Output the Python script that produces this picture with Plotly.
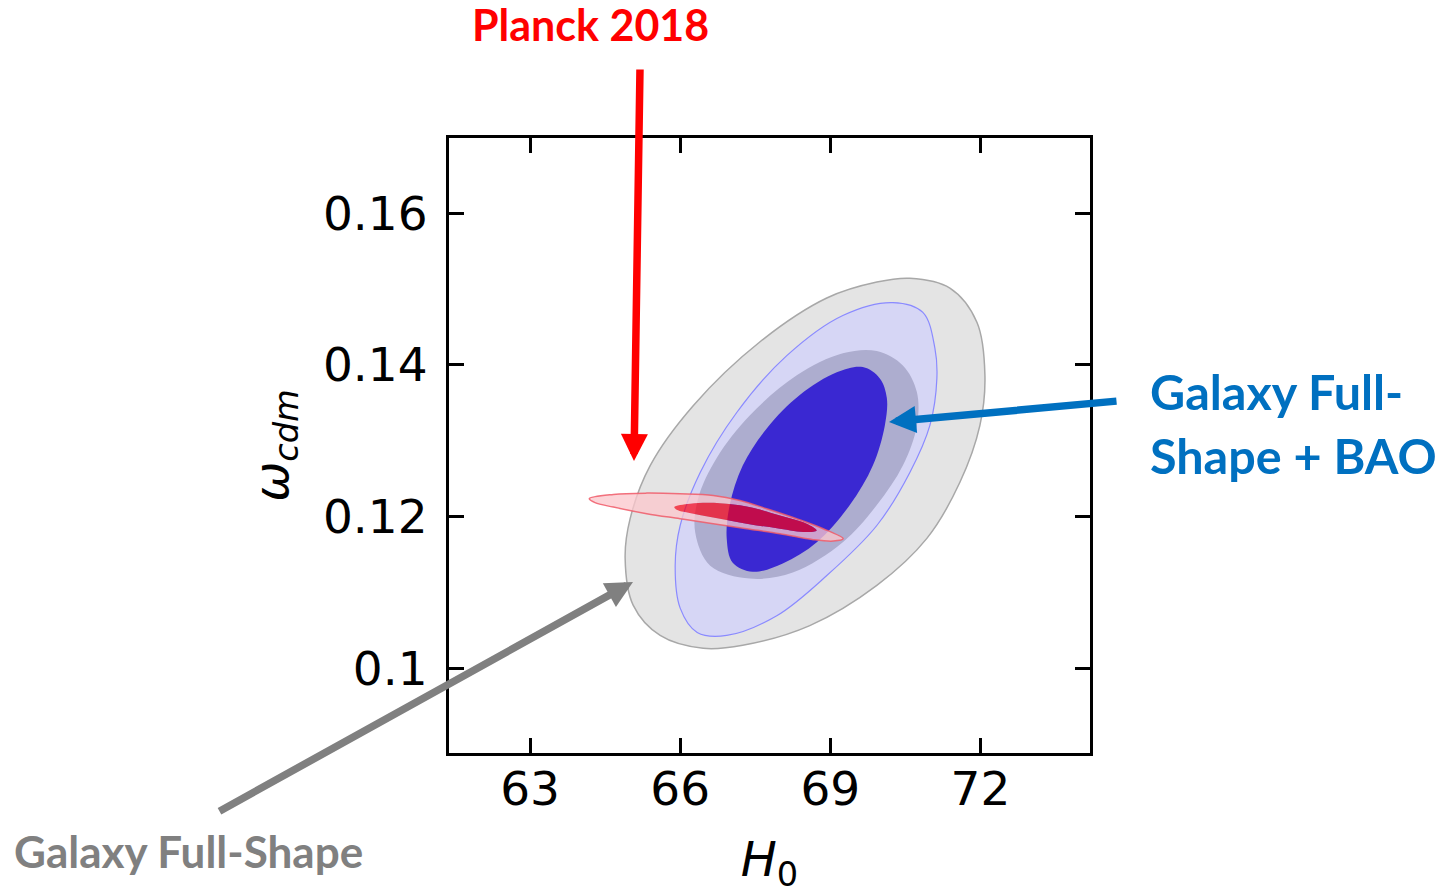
import plotly.graph_objects as go

# ---------------- axes ----------------
H0_RANGE = [61.38, 74.19]
W_RANGE = [0.0888, 0.1699]
H0_TICKS = [63, 66, 69, 72]
H0_TICK_TEXT = ["63", "66", "69", "72"]
W_TICKS = [0.10, 0.12, 0.14, 0.16]
W_TICK_TEXT = ["0.1", "0.12", "0.14", "0.16"]

# ---------------- contours (H0, omega_cdm) ----------------
# Galaxy Full-Shape, 2 sigma (outer grey)
gfs2_h0 = [67.59, 68.93, 69.93, 70.59, 71.39, 71.93, 72.09, 71.99, 71.59, 70.93, 69.93,
           68.59, 67.25, 66.46, 65.60, 65.06, 64.90, 65.00, 65.40, 66.26, 67.59]
gfs2_w = [0.1430, 0.1488, 0.1509, 0.1514, 0.1501, 0.1456, 0.1386, 0.1320, 0.1245, 0.1171, 0.1109,
          0.1056, 0.1030, 0.1026, 0.1043, 0.1083, 0.1145, 0.1197, 0.1267, 0.1346, 0.1430]

# Galaxy Full-Shape + BAO, 2 sigma (lavender)
bao2_h0 = [68.13, 69.25, 70.25, 70.85, 71.09, 71.13, 70.99, 70.59, 69.93, 68.93, 67.93,
           66.93, 66.34, 66.00, 65.90, 66.00, 66.40, 67.13, 68.13]
bao2_w = [0.1412, 0.1465, 0.1482, 0.1469, 0.1422, 0.1382, 0.1320, 0.1258, 0.1188, 0.1122, 0.1069,
          0.1043, 0.1047, 0.1079, 0.1135, 0.1188, 0.1258, 0.1337, 0.1412]

# Galaxy Full-Shape, 1 sigma (grey-blue)
gfs1_h0 = [68.33, 69.25, 69.93, 70.45, 70.73, 70.73, 70.45, 69.93, 69.25, 68.25, 67.39,
           66.60, 66.30, 66.36, 66.73, 67.39, 68.33]
gfs1_w = [0.1386, 0.1415, 0.1418, 0.1399, 0.1364, 0.1320, 0.1267, 0.1215, 0.1166, 0.1126, 0.1118,
          0.1135, 0.1179, 0.1224, 0.1277, 0.1333, 0.1386]

# Galaxy Full-Shape + BAO, 1 sigma (dark blue)
bao1_h0 = [68.39, 69.13, 69.65, 69.99, 70.13, 70.09, 69.85, 69.39, 68.73, 68.05, 67.45,
           67.05, 66.93, 66.99, 67.25, 67.73, 68.39]
bao1_w = [0.1360, 0.1390, 0.1397, 0.1382, 0.1356, 0.1320, 0.1267, 0.1215, 0.1166, 0.1138, 0.1127,
          0.1139, 0.1171, 0.1215, 0.1267, 0.1316, 0.1360]

# Planck 2018, 2 sigma
pl2_h0 = [65.996, 66.661, 67.194, 67.727, 68.327, 68.858, 69.257, 69.058, 68.658, 67.993,
          67.328, 66.661, 65.996, 65.331, 64.664, 64.298, 64.184, 64.664, 65.331, 65.996]
pl2_w = [0.12299, 0.12277, 0.12211, 0.12102, 0.11970, 0.11838, 0.11706, 0.11674, 0.11693, 0.11772,
         0.11838, 0.11904, 0.11970, 0.12036, 0.12123, 0.12181, 0.12234, 0.12290, 0.12307, 0.12299]

# Planck 2018, 1 sigma
pl1_h0 = [66.795, 67.328, 67.993, 68.526, 68.726, 68.526, 67.993, 67.328, 66.795, 66.261,
          65.930, 65.882, 66.196, 66.795]
pl1_w = [0.12175, 0.12132, 0.12013, 0.11904, 0.11815, 0.11793, 0.11838, 0.11904, 0.11970, 0.12036,
         0.12088, 0.12123, 0.12168, 0.12175]

# ---------------- labels ----------------
LABEL_PLANCK = "Planck 2018"
LABEL_BAO_1 = "Galaxy Full-"
LABEL_BAO_2 = "Shape + BAO"
LABEL_GFS = "Galaxy Full-Shape"

fig = go.Figure()


def region(x, y, fill, line_color=None, line_width=0):
    fig.add_trace(go.Scatter(
        x=x, y=y, mode="lines", fill="toself", fillcolor=fill,
        line=dict(color=line_color or fill, width=line_width, shape="spline", smoothing=1.0),
        hoverinfo="skip", showlegend=False))


region(gfs2_h0, gfs2_w, "#e4e4e4", "#a8a8a8", 1.5)
region(bao2_h0, bao2_w, "#d6d6f5", "#8a8aff", 1.2)
region(gfs1_h0, gfs1_w, "#adadcf")
region(bao1_h0, bao1_w, "#3a28d2")

# Planck 2 sigma band (outer ring with the 1 sigma area cut out)
band_x = pl2_h0 + [None] + pl1_h0[::-1]
band_y = pl2_w + [None] + pl1_w[::-1]
region(band_x, band_y, "rgba(251,199,204,0.77)")
fig.add_trace(go.Scatter(
    x=pl2_h0, y=pl2_w, mode="lines",
    line=dict(color="rgba(240,90,105,0.85)", width=1.5, shape="spline", smoothing=1.0),
    hoverinfo="skip", showlegend=False))
region(pl1_h0, pl1_w, "rgba(250,0,20,0.70)")

TICK_FONT = dict(family="DejaVu Sans", size=47, color="black")
TITLE_FONT = dict(family="DejaVu Sans", size=48, color="black")

fig.update_xaxes(
    range=H0_RANGE, tickvals=H0_TICKS, ticktext=H0_TICK_TEXT,
    ticks="inside", ticklen=15, tickwidth=2.5, tickcolor="black",
    showline=True, linewidth=3, linecolor="black", mirror="ticks",
    showgrid=False, zeroline=False, tickfont=TICK_FONT, ticklabelstandoff=-7,
    automargin=False,
    title=dict(text="<i>H</i><sub>0</sub>", font=TITLE_FONT, standoff=35))
fig.update_yaxes(
    range=W_RANGE, tickvals=W_TICKS, ticktext=W_TICK_TEXT,
    ticks="inside", ticklen=15, tickwidth=2.5, tickcolor="black",
    showline=True, linewidth=3, linecolor="black", mirror="ticks",
    showgrid=False, zeroline=False, tickfont=TICK_FONT, ticklabelstandoff=9,
    automargin=False,
    title=dict(text="<i>ω</i><sub><i>cdm</i></sub>", font=TITLE_FONT, standoff=20))

L, R, T, B = 449, 1090, 138, 753


def px(xp):
    return (xp - L) / (R - L)


def py(yp):
    return (B - yp) / (B - T)


TEXT_FONT = "Lato"
annotations = [
    dict(text=f"<b>{LABEL_PLANCK}</b>", x=px(590), y=py(24), xanchor="center", yanchor="middle",
         font=dict(family=TEXT_FONT, size=43, color="#ff0000")),
    dict(text=f"<b>{LABEL_BAO_1}</b>", x=px(1148), y=py(391), xanchor="left", yanchor="middle",
         font=dict(family=TEXT_FONT, size=48.5, color="#0070c0")),
    dict(text=f"<b>{LABEL_BAO_2}</b>", x=px(1148), y=py(455), xanchor="left", yanchor="middle",
         font=dict(family=TEXT_FONT, size=48.5, color="#0070c0")),
    dict(text=f"<b>{LABEL_GFS}</b>", x=px(12), y=py(851), xanchor="left", yanchor="middle",
         font=dict(family=TEXT_FONT, size=44, color="#808080")),
]
arrows = [
    # (tip x, tip y, tail x, tail y, colour)
    (634, 461, 640, 68, "#ff0000"),
    (889, 422, 1118, 401, "#0070c0"),
    (633, 582, 218, 812, "#808080"),
]
for tx, ty, sx, sy, col in arrows:
    annotations.append(dict(
        text="", x=px(tx), y=py(ty), xref="paper", yref="paper",
        ax=sx - tx, ay=sy - ty, showarrow=True, arrowhead=2, arrowsize=0.72,
        arrowwidth=7.5, arrowcolor=col))
for a in annotations:
    a.setdefault("xref", "paper")
    a.setdefault("yref", "paper")
    a.setdefault("showarrow", False)

fig.update_layout(
    width=1440, height=894,
    margin=dict(l=L, r=1440 - R, t=T, b=894 - B, pad=0, autoexpand=False),
    paper_bgcolor="white", plot_bgcolor="white",
    annotations=annotations,
)

fig.write_html("out.html")
